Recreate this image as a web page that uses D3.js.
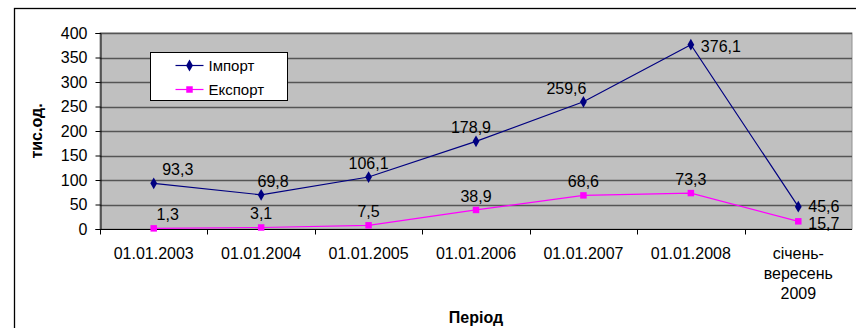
<!DOCTYPE html>
<html>
<head>
<meta charset="utf-8">
<script src="https://cdn.jsdelivr.net/npm/d3@7"></script>
<style>
  html, body { margin: 0; padding: 0; background: #fff; }
  svg { display: block; font-family: "Liberation Sans", Arial, sans-serif; }
</style>
</head>
<body>
<svg id="chart" width="856" height="328"></svg>
<script>
// Categories (periods) – the last one is split into lines
const periods = ["01.01.2003", "01.01.2004", "01.01.2005", "01.01.2006", "01.01.2007", "01.01.2008", "січень-\nвересень\n2009"];
const importValues = [93.3, 69.8, 106.1, 178.9, 259.6, 376.1, 45.6];
const exportValues = [1.3, 3.1, 7.5, 38.9, 68.6, 73.3, 15.7];
const yTicks = [0, 50, 100, 150, 200, 250, 300, 350, 400];
const seriesNames = ["Імпорт", "Експорт"];

// Label placement per point: ["above", horizontal nudge] or ["right", vertical nudge]
const importLabelPlace = [["above", 24], ["above", 12], ["above", 0], ["above", -5], ["above", -17], ["right", 1], ["right", -1]];
const exportLabelPlace = [["above", 14], ["above", 0], ["above", 0], ["above", 0], ["above", 0], ["above", 0], ["right", 2]];

const svg = d3.select("#chart");
const plot = { left: 100, right: 852, top: 33, bottom: 229 };

// Outer chart frame
svg.append("rect")
  .attr("x", 14.5).attr("y", 8.5)
  .attr("width", 900).attr("height", 400)
  .attr("fill", "#fff").attr("stroke", "#000").attr("stroke-width", 1.3);

const x = d3.scaleBand().domain(d3.range(periods.length)).range([plot.left, plot.right]);
const y = d3.scaleLinear().domain([0, 400]).range([plot.bottom, plot.top]);

// Plot area
svg.append("rect")
  .attr("x", plot.left).attr("y", plot.top)
  .attr("width", plot.right - plot.left).attr("height", plot.bottom - plot.top)
  .attr("fill", "#c0c0c0").attr("stroke", "#909090").attr("stroke-width", 1);

// Gridlines
svg.append("g").selectAll("line").data(yTicks.filter(d => d > 0)).join("line")
  .attr("x1", plot.left).attr("x2", plot.right)
  .attr("y1", d => Math.round(y(d)) + 0.5).attr("y2", d => Math.round(y(d)) + 0.5)
  .attr("stroke", "#555").attr("stroke-width", 1.3);

// Y axis
const yAxis = svg.append("g")
  .attr("transform", `translate(${plot.left + 0.5},0)`)
  .call(d3.axisLeft(y).tickValues(yTicks).tickSize(5).tickPadding(8).tickFormat(d3.format("d")));
yAxis.select(".domain").attr("stroke", "#000");
yAxis.selectAll(".tick line").attr("stroke", "#000");
yAxis.selectAll(".tick text").attr("font-size", 16).attr("fill", "#000")
  .attr("font-family", "Liberation Sans, Arial, sans-serif");

// X axis: ticks at band boundaries
const xAxisG = svg.append("g").attr("transform", `translate(0,${plot.bottom + 0.5})`);
xAxisG.append("line").attr("x1", plot.left).attr("x2", plot.right).attr("stroke", "#000");
const boundaries = d3.range(periods.length).map(i => x(i));
xAxisG.selectAll("line.tick").data(boundaries).join("line")
  .attr("class", "tick")
  .attr("x1", d => Math.round(d) + 0.5).attr("x2", d => Math.round(d) + 0.5)
  .attr("y1", 0).attr("y2", 5).attr("stroke", "#000");
const xLabels = xAxisG.selectAll("text").data(periods).join("text")
  .attr("text-anchor", "middle")
  .attr("font-size", 16).attr("fill", "#000")
  .attr("transform", (d, i) => `translate(${x(i) + x.bandwidth() / 2},29)`);
xLabels.each(function(d) {
  const t = d3.select(this);
  d.split("\n").forEach((line, k) => {
    t.append("tspan").attr("x", 0).attr("y", k * 20).text(line);
  });
});

// Axis titles
svg.append("text")
  .attr("x", (plot.left + plot.right) / 2).attr("y", 323)
  .attr("text-anchor", "middle").attr("font-size", 16).attr("font-weight", "bold")
  .text("Період");
svg.append("text")
  .attr("transform", `translate(42,${(plot.top + plot.bottom) / 2}) rotate(-90)`)
  .attr("text-anchor", "middle").attr("font-size", 16).attr("font-weight", "bold")
  .text("тис.од.");

// Series
const cx = i => x(i) + x.bandwidth() / 2;
const line = d3.line().x((d, i) => cx(i)).y(d => y(d));

const series = [
  { name: seriesNames[0], values: importValues, color: "#000080", shape: d3.symbolDiamond, size: 40, place: importLabelPlace },
  { name: seriesNames[1], values: exportValues, color: "#ff00ff", shape: d3.symbolSquare, size: 42, place: exportLabelPlace }
];

series.forEach(s => {
  svg.append("path").datum(s.values)
    .attr("d", line).attr("fill", "none")
    .attr("stroke", s.color).attr("stroke-width", 1.2);
  svg.append("g").selectAll("path").data(s.values).join("path")
    .attr("d", d3.symbol().type(s.shape).size(s.size))
    .attr("transform", (d, i) => `translate(${cx(i)},${y(d)})`)
    .attr("fill", s.color);
  svg.append("g").selectAll("text").data(s.values).join("text")
    .attr("font-size", 16).attr("fill", "#000")
    .attr("text-anchor", (d, i) => s.place[i][0] === "right" ? "start" : "middle")
    .attr("x", (d, i) => s.place[i][0] === "right" ? cx(i) + 10 : cx(i) + s.place[i][1])
    .attr("y", (d, i) => s.place[i][0] === "right" ? y(d) + 6 + s.place[i][1] : y(d) - 8)
    .text(d => d3.format(".1f")(d).replace(".", ","));
});

// Legend
const legend = svg.append("g").attr("transform", "translate(150.5,52.5)");
legend.append("rect").attr("width", 137).attr("height", 48)
  .attr("fill", "#fff").attr("stroke", "#000").attr("stroke-width", 1);
series.forEach((s, k) => {
  const ly = 13 + k * 24;
  legend.append("line").attr("x1", 25).attr("x2", 53).attr("y1", ly).attr("y2", ly)
    .attr("stroke", s.color).attr("stroke-width", 1.2);
  legend.append("path").attr("d", d3.symbol().type(s.shape).size(s.size))
    .attr("transform", `translate(39,${ly})`).attr("fill", s.color);
  legend.append("text").attr("x", 58).attr("y", ly + 5)
    .attr("font-size", 15).attr("fill", "#000").text(s.name);
});
</script>
</body>
</html>
